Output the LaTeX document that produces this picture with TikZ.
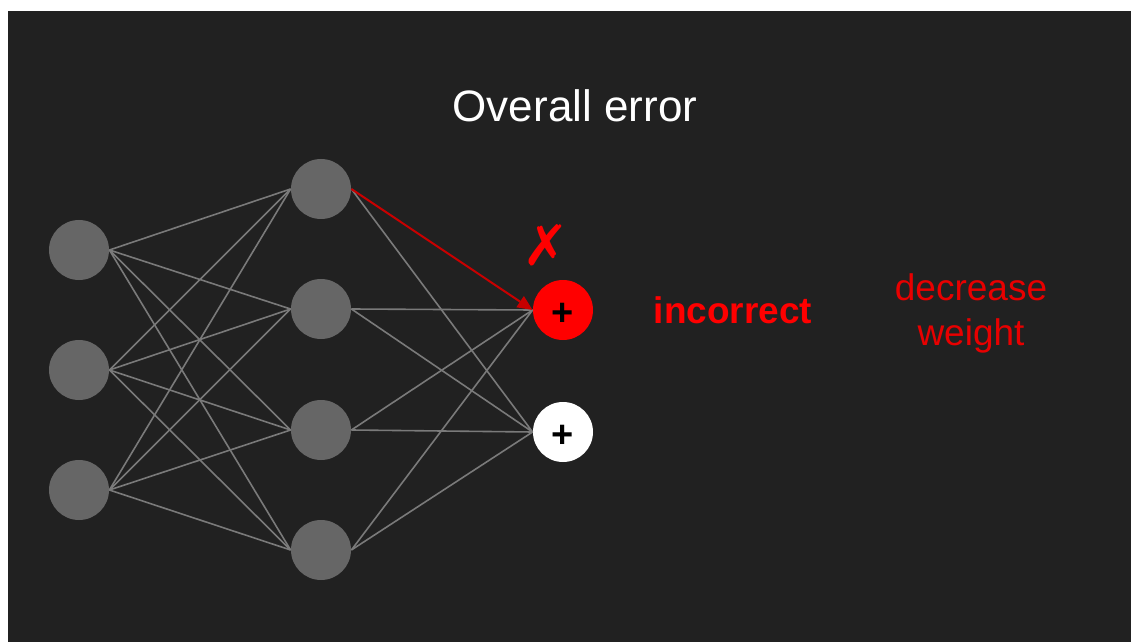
\documentclass[tikz,border=0pt]{standalone}
\usepackage{fontspec}
\setmainfont{Liberation Sans}
\newfontfamily\symfont{DejaVu Sans}
\usetikzlibrary{arrows.meta}
\definecolor{bgdark}{HTML}{212121}
\definecolor{unitgray}{HTML}{666666}
\definecolor{wiregray}{HTML}{7A7A7A}
\definecolor{errred}{HTML}{FF0000}
\definecolor{arrowred}{HTML}{C80000}
\definecolor{textred}{HTML}{E80000}
% plus sign lowered onto the circle's centre, box size unchanged
\newcommand{\plussign}{\raisebox{-2.2pt}[\height][\depth]{+}}
\begin{document}
\begin{tikzpicture}[x=0.5pt,y=-0.5pt,
  unit/.style={circle,fill=unitgray,draw=none,minimum size=30pt,inner sep=0pt},
  outunit/.style={circle,draw=none,minimum size=30pt,inner sep=0pt,
    font=\fontsize{19}{19}\selectfont\bfseries,text=black},
  wire/.style={draw=wiregray,line width=0.8pt},
  blame/.style={draw=arrowred,line width=1pt,-{Triangle[length=7.5pt,width=6.5pt]}}]
  % canvas
  \useasboundingbox (0,0) rectangle (1131,642);
  \fill[white] (0,0) rectangle (1131,642);
  \fill[bgdark] (8,11) rectangle (1131,642);

  % input layer
  \node[unit] (i1) at (79,250) {};
  \node[unit] (i2) at (79,370) {};
  \node[unit] (i3) at (79,490) {};
  % hidden layer
  \node[unit] (h1) at (321,189) {};
  \node[unit] (h2) at (321,309) {};
  \node[unit] (h3) at (321,430) {};
  \node[unit] (h4) at (321,550) {};
  % output layer
  \node[outunit,fill=errred] (o1) at (563,310) {\plussign};
  \node[outunit,fill=white] (o2) at (563,432) {\plussign};

  % connections input -> hidden
  \foreach \a in {i1,i2,i3}
    \foreach \b in {h1,h2,h3,h4}
      \draw[wire] (\a.east) -- (\b.west);
  % connections hidden -> output
  \foreach \a in {h2,h3,h4}
    \draw[wire] (\a.east) -- (o1.west);
  \foreach \a in {h1,h2,h3,h4}
    \draw[wire] (\a.east) -- (o2.west);
  % weight being blamed
  \draw[blame] (h1.east) -- (o1.west);

  % labels
  \node[text=white,font=\fontsize{22}{22}\selectfont,anchor=base] (title) at (575,122) {Overall error};
  \node[text=errred,font=\fontsize{28}{28}\selectfont\symfont,inner sep=0pt] (cross) at (546,245) {✗};
  \node[text=errred,font=\fontsize{18.5}{18.5}\selectfont\bfseries,anchor=base] (verdict) at (733,323) {incorrect};
  \node[text=textred,font=\fontsize{18.5}{18.5}\selectfont,anchor=base] (act1) at (971,300) {decrease};
  \node[text=textred,font=\fontsize{18.5}{18.5}\selectfont,anchor=base] (act2) at (971,345) {weight};
\end{tikzpicture}
\end{document}
